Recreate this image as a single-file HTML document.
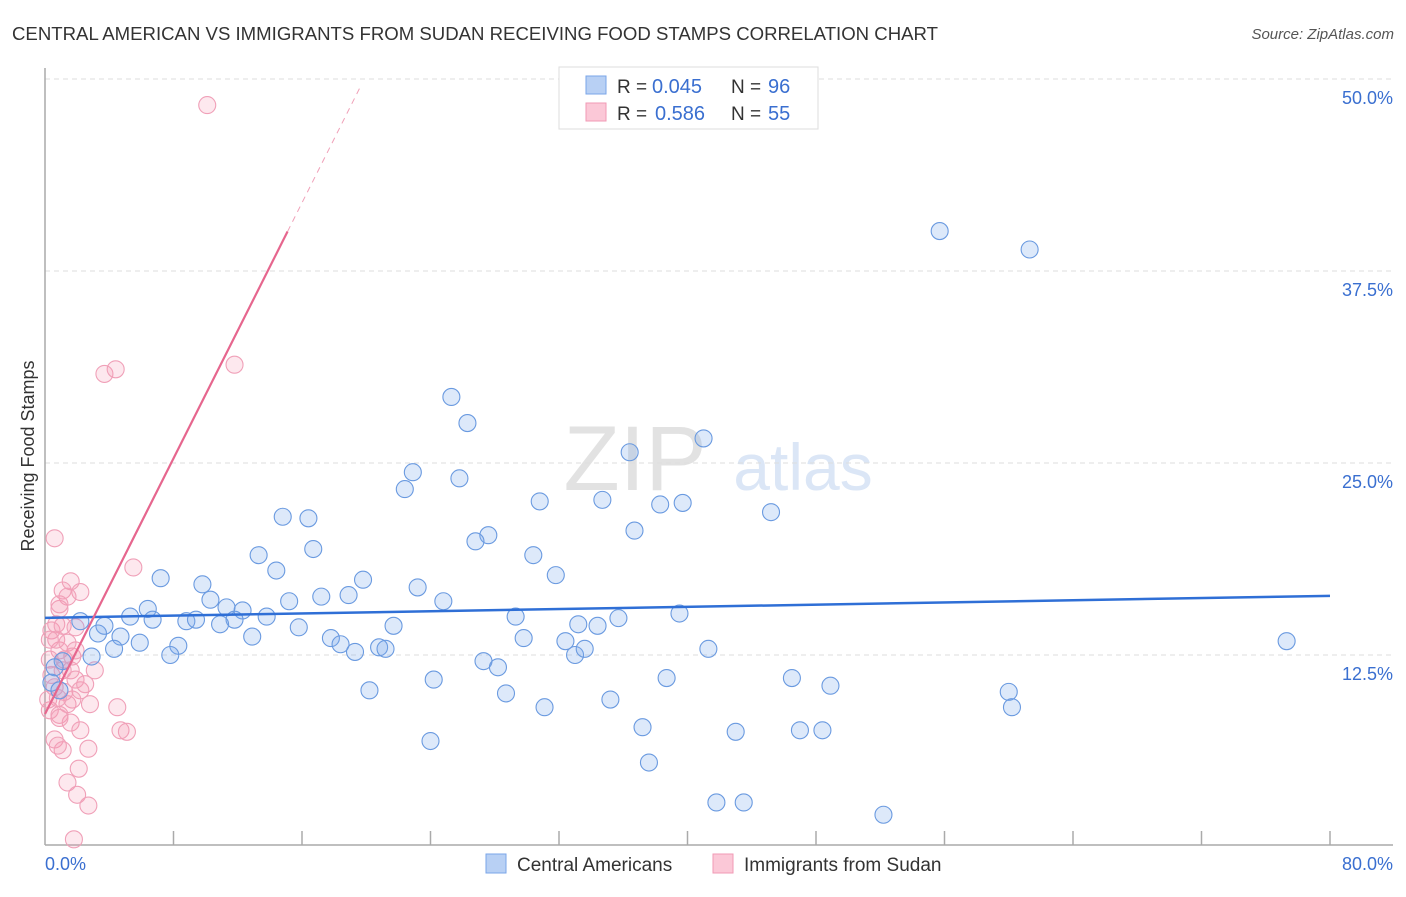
<!DOCTYPE html>
<html><head><meta charset="utf-8"><style>
body{margin:0;background:#fff;font-family:"Liberation Sans",sans-serif;}
svg text{font-family:"Liberation Sans",sans-serif;}
</style></head><body>
<svg id="chart" width="1406" height="892" xmlns="http://www.w3.org/2000/svg">
<text x="12" y="40" font-size="18" fill="#333" textLength="926" lengthAdjust="spacingAndGlyphs">CENTRAL AMERICAN VS IMMIGRANTS FROM SUDAN RECEIVING FOOD STAMPS CORRELATION CHART</text>
<text x="1394" y="39" font-size="15" fill="#555" text-anchor="end" font-style="italic">Source: ZipAtlas.com</text>
<g>
<text x="635" y="490" font-size="92" fill="#e2e2e2" text-anchor="middle" font-family="Liberation Serif, serif">ZIP</text>
<text x="803" y="490" font-size="66" fill="#dbe6f6" text-anchor="middle">atlas</text>
</g>
<g id="grid"></g>
<g id="axes"></g>
<g id="marks"></g>
<text transform="translate(34,456) rotate(-90)" font-size="18" fill="#333" text-anchor="middle">Receiving Food Stamps</text>
<g>
<rect x="559" y="67" width="259" height="62" fill="#fff" stroke="#ddd"/>
<rect x="586" y="76" width="20" height="18" fill="#b8d0f4" stroke="#7aa6e8"/>
<rect x="586" y="103" width="20" height="18" fill="#fbc8d7" stroke="#f09ab4"/>
<text x="617" y="93" font-size="19" fill="#333">R =</text>
<text x="652" y="93" font-size="20" fill="#3a6fd0">0.045</text>
<text x="731" y="93" font-size="19" fill="#333">N =</text>
<text x="768" y="93" font-size="20" fill="#3a6fd0">96</text>
<text x="617" y="120" font-size="19" fill="#333">R =</text>
<text x="655" y="120" font-size="20" fill="#3a6fd0">0.586</text>
<text x="731" y="120" font-size="19" fill="#333">N =</text>
<text x="768" y="120" font-size="20" fill="#3a6fd0">55</text>
</g>
<g>
<rect x="486" y="854" width="20" height="19" fill="#b8d0f4" stroke="#7aa6e8"/>
<text x="517" y="871" font-size="19" fill="#333">Central Americans</text>
<rect x="713" y="854" width="20" height="19" fill="#fbc8d7" stroke="#f09ab4"/>
<text x="744" y="871" font-size="19" fill="#333">Immigrants from Sudan</text>
</g>
</svg>
<script>
const yTicks=[12.5,25.0,37.5,50.0];
const yTickLabels=["12.5%","25.0%","37.5%","50.0%"];
const xTickLabels=["0.0%","80.0%"];
const blueX=[55.7,61.3,25.3,26.3,41.0,36.4,22.9,25.8,22.4,30.8,34.7,38.3,39.7,45.2,14.8,16.4,36.7,27.6,26.8,16.7,30.4,13.3,14.4,31.8,7.2,9.8,19.8,23.2,10.3,17.2,18.9,24.8,12.3,5.3,6.4,6.7,8.8,9.4,11.3,11.8,13.8,15.2,29.3,33.2,34.4,35.7,39.5,3.7,2.2,10.9,3.3,4.7,5.9,12.9,15.8,21.7,17.8,18.4,19.3,20.8,21.2,29.8,32.4,33.0,33.6,41.3,77.3,8.3,7.8,4.3,2.9,1.1,0.6,0.4,0.9,27.3,28.2,20.2,24.2,28.7,31.1,35.2,38.7,46.5,48.9,60.0,60.2,37.2,43.0,47.0,48.4,24.0,37.6,41.8,43.5,52.2];
const blueY=[40.1,38.9,29.3,27.6,26.6,25.7,24.4,24.0,23.3,22.5,22.6,22.3,22.4,21.8,21.5,21.4,20.6,20.3,19.9,19.4,19.0,19.0,18.0,17.7,17.5,17.1,17.4,16.9,16.1,16.3,16.4,16.0,15.4,15.0,15.5,14.8,14.7,14.8,15.6,14.8,15.0,16.0,15.0,14.5,14.4,14.9,15.2,14.4,14.7,14.5,13.9,13.7,13.3,13.7,14.3,14.4,13.6,13.2,12.7,13.0,12.9,13.6,13.4,12.5,12.9,12.9,13.4,13.1,12.5,12.9,12.4,12.1,11.7,10.7,10.2,12.1,11.7,10.2,10.9,10.0,9.1,9.6,11.0,11.0,10.5,10.1,9.1,7.8,7.5,7.6,7.6,6.9,5.5,2.9,2.9,2.1];
const pinkX=[10.1,3.7,4.4,11.8,0.6,5.5,1.6,2.2,1.1,1.4,0.9,0.4,0.7,1.1,1.9,3.1,0.9,0.3,1.2,1.6,1.9,2.2,0.6,1.2,2.5,0.3,0.9,1.4,1.7,2.8,4.5,0.6,1.6,2.2,1.1,0.8,2.1,1.4,2.0,2.7,1.8,4.7,5.1,2.7,0.9,0.2,0.4,0.7,1.4,0.9,1.7,1.1,0.8,0.3,1.9];
const pinkY=[48.3,30.8,31.1,31.4,20.1,18.2,17.3,16.6,16.7,16.3,15.5,14.1,14.5,14.4,14.3,11.5,12.8,12.2,12.2,11.5,10.9,10.2,10.4,10.1,10.6,8.9,8.6,9.3,9.6,9.3,9.1,7.0,8.1,7.6,6.3,6.6,5.1,4.2,3.4,2.7,0.5,7.6,7.5,6.4,8.4,9.6,11.2,13.5,13.3,15.8,12.4,11.5,9.7,13.5,12.8];
const blueTrend=[14.92,16.35];
const pinkTrend={b:8.66,m:2.08,solidEnd:15.1,dashEnd:19.7};
const NS="http://www.w3.org/2000/svg";
const X0=45,X1=1330,Y0=847,Y1=79;
const xs=v=>X0+v*(X1-X0)/80;
const ys=v=>Y0-v*(Y0-Y1)/50;
function mk(t,a,p){const e=document.createElementNS(NS,t);for(const k in a)e.setAttribute(k,a[k]);document.getElementById(p).appendChild(e);return e;}
yTicks.forEach((t,i)=>{
 const g=mk('line',{x1:45,x2:1393,y1:ys(t),y2:ys(t),stroke:'#ddd','stroke-dasharray':'5,4'},'grid');
 
 
 const l=mk('text',{x:1393,y:ys(t)+25,'font-size':18,fill:'#3a6fd0','text-anchor':'end'},'axes');
 l.textContent=yTickLabels[i];
 
 
});
let a=mk('line',{x1:45,x2:45,y1:68,y2:845,stroke:'#aaa','stroke-width':1.5},'axes');


a=mk('line',{x1:45,x2:1393,y1:845,y2:845,stroke:'#aaa','stroke-width':1.5},'axes');


for(let i=1;i<=10;i++){const t=mk('line',{x1:xs(i*8),x2:xs(i*8),y1:831,y2:845,stroke:'#aaa','stroke-width':1.5},'axes');
 
 }
[[0,'start',45],[80,'end',1393]].forEach((d,i)=>{const t=mk('text',{x:d[2],y:870,'font-size':18,fill:'#3a6fd0','text-anchor':d[1]},'axes');t.textContent=xTickLabels[i];
 
 });
pinkX.forEach((v,i)=>{const c=mk('circle',{cx:xs(v),cy:ys(pinkY[i]),r:8.5,fill:'rgba(244,150,178,0.22)',stroke:'#f0a0b8','stroke-width':1.1},'marks');
 
 });
blueX.forEach((v,i)=>{const c=mk('circle',{cx:xs(v),cy:ys(blueY[i]),r:8.5,fill:'rgba(120,168,236,0.25)',stroke:'#6a9ae0','stroke-width':1.1},'marks');
 
 });
let tl=mk('line',{x1:xs(0),y1:ys(blueTrend[0]),x2:xs(80),y2:ys(blueTrend[1]),stroke:'#2f6fd6','stroke-width':2.5},'marks');


const pf=x=>pinkTrend.b+pinkTrend.m*x;
tl=mk('line',{x1:xs(0),y1:ys(pf(0)),x2:xs(pinkTrend.solidEnd),y2:ys(pf(pinkTrend.solidEnd)),stroke:'#e6668e','stroke-width':2.2},'marks');


tl=mk('line',{x1:xs(pinkTrend.solidEnd),y1:ys(pf(pinkTrend.solidEnd)),x2:xs(pinkTrend.dashEnd),y2:ys(pf(pinkTrend.dashEnd)),stroke:'#f0a0b8','stroke-width':1,'stroke-dasharray':'6,5'},'marks');


</script>
</body></html>
